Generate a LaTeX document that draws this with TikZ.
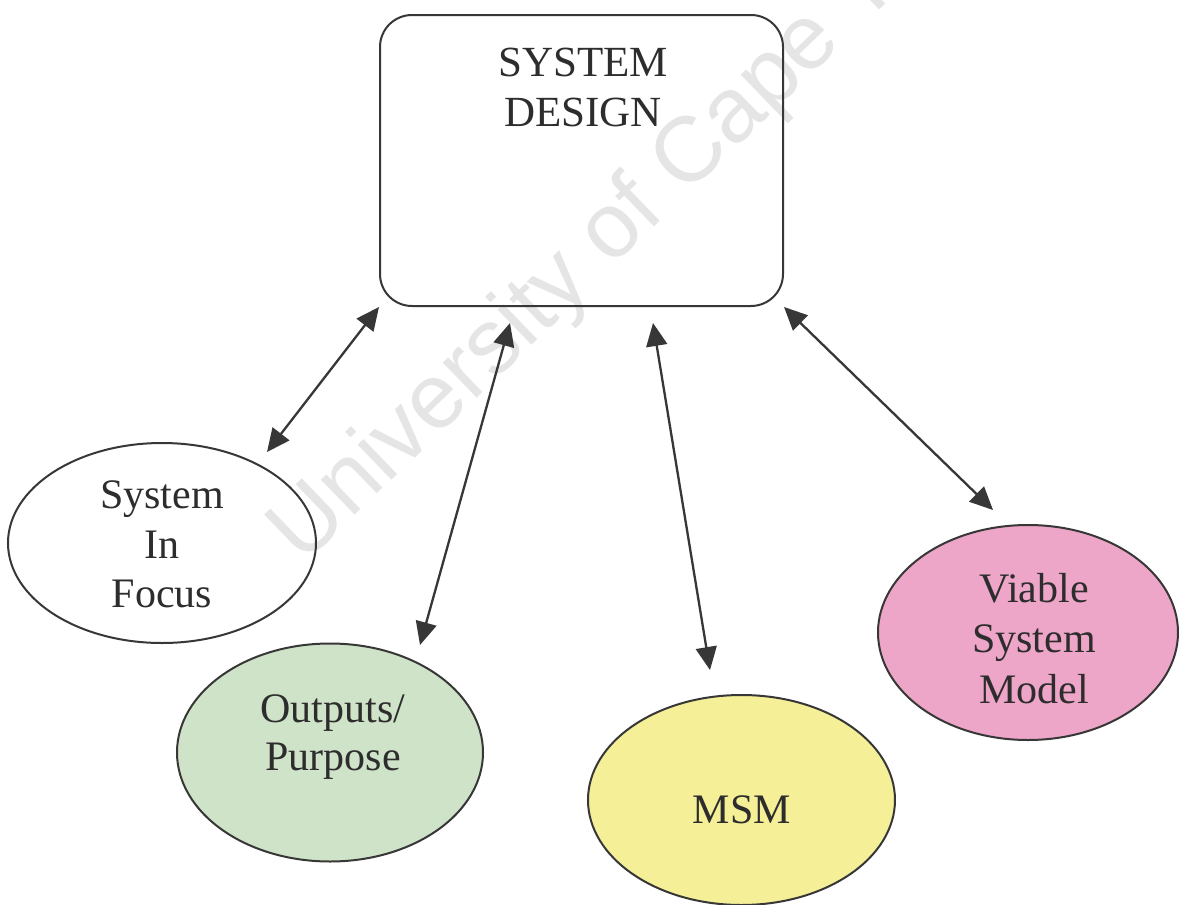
\documentclass[tikz,border=0pt]{standalone}
\usepackage{fontspec}
\setmainfont{Liberation Serif}
\newfontfamily\wmfont{Liberation Sans}
\usetikzlibrary{shapes.geometric,arrows.meta}
\definecolor{linec}{RGB}{55,55,55}
\definecolor{textc}{RGB}{45,45,45}
\definecolor{wmc}{RGB}{229,229,229}
\definecolor{greenf}{RGB}{207,227,200}
\definecolor{yellowf}{RGB}{245,239,152}
\definecolor{pinkf}{RGB}{238,166,200}
\tikzset{
  lbl/.style={anchor=base, inner sep=0pt, text=textc, font=\fontsize{42}{50}\selectfont},
  toplbl/.style={anchor=base, inner sep=0pt, text=textc, font=\fontsize{43}{50}\selectfont},
  oval/.style={ellipse, draw=linec, line width=2pt, inner sep=0pt},
  dblarrow/.style={draw=linec, line width=2.3pt, {Triangle[length=23pt,width=21pt]}-{Triangle[length=23pt,width=21pt]}}
}
\begin{document}
\begin{tikzpicture}[x=1pt,y=-1pt]
\useasboundingbox (0,0) rectangle (1179,905);
\clip (0,0) rectangle (1179,905);
\fill[white] (0,0) rectangle (1179,905);
% watermark
\node[anchor=base west, inner sep=0pt, rotate=44, text=wmc, font=\wmfont\fontsize{92}{92}\selectfont] (wm) at (303,566) {University of Cape Town};
% main box
\node[draw=linec, line width=2pt, rounded corners=32pt, minimum width=403pt, minimum height=291pt, inner sep=0pt] (box) at (581.5,160.5) {};
\node[toplbl] (t1) at (583,76) {SYSTEM};
\node[toplbl] (t2) at (583,126) {DESIGN};
% ellipses
\node[oval, minimum width=308pt, minimum height=200pt] (sif) at (162,543) {};
\node[oval, fill=greenf, minimum width=306pt, minimum height=218pt] (op) at (330,752.5) {};
\node[oval, fill=yellowf, minimum width=307pt, minimum height=210pt] (msm) at (741.5,800) {};
\node[oval, fill=pinkf, minimum width=300pt, minimum height=215pt] (vsm) at (1028,632.5) {};
% labels
\node[lbl] (s1) at (162,508) {System};
\node[lbl] (s2) at (162,558) {In};
\node[lbl] (s3) at (162,607) {Focus};
\node[lbl] (o1) at (333,722) {Outputs/};
\node[lbl] (o2) at (333,770) {Purpose};
\node[lbl] (m1) at (742,823) {MSM};
\node[lbl] (v1) at (1034,602) {Viable};
\node[lbl] (v2) at (1034,652) {System};
\node[lbl] (v3) at (1034,703) {Model};
% arrow end points near the nodes
\coordinate (b2) at (510,323);
\coordinate (b3) at (653,323);
\coordinate (e1) at (267,452);
\coordinate (e2) at (420,645);
\coordinate (e3) at (710,670);
\coordinate (e4) at (993,510);
% connectors
\draw[dblarrow] (box.south west) -- (e1);
\draw[dblarrow] (b2) -- (e2);
\draw[dblarrow] (b3) -- (e3);
\draw[dblarrow] (box.south east) -- (e4);
\end{tikzpicture}
\end{document}
